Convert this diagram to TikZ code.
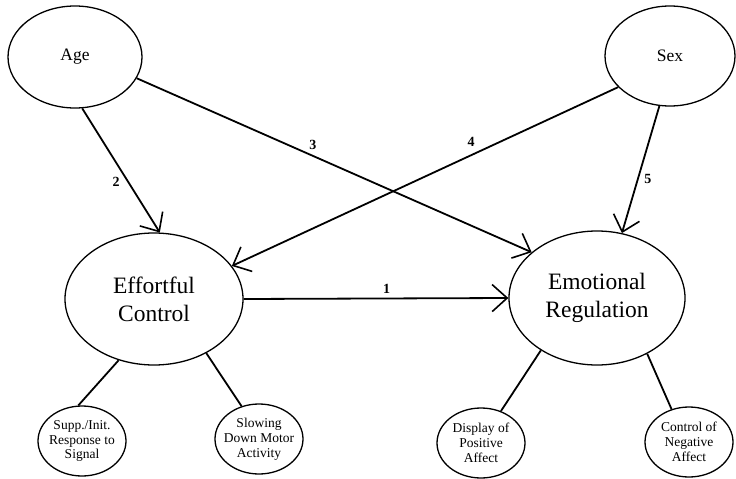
\documentclass[tikz,border=0pt]{standalone}
\usepackage{fontspec}
\setmainfont{Liberation Serif}
\usetikzlibrary{shapes.geometric,arrows.meta}
\begin{document}
\begin{tikzpicture}[x=1pt,y=-1pt,
  bigell/.style={draw,ellipse,line width=1.3pt,inner sep=0pt,align=center,
    font=\fontsize{23.5}{28}\selectfont},
  topell/.style={draw,ellipse,line width=1.3pt,inner sep=0pt,
    font=\fontsize{17.5}{20}\selectfont},
  smallell/.style={draw,ellipse,line width=1.3pt,inner sep=-5pt,align=center,
    minimum width=88pt,minimum height=70pt,font=\fontsize{13.5}{14.8}\selectfont},
  conn/.style={line width=1.8pt},
  arr/.style={line width=1.8pt,-{Straight Barb[length=15pt,width=27pt,line width=1.6pt]}},
  lab/.style={font=\bfseries\fontsize{14}{16}\selectfont,inner sep=0pt}
]
\useasboundingbox (0,0) rectangle (736,479);
\node[topell,minimum width=134pt,minimum height=102pt] (age) at (75,57) {Age};
\node[topell,minimum width=130pt,minimum height=100pt] (sex) at (670,56) {Sex};
\node[bigell,minimum width=178pt,minimum height=132pt] (ec) at (154,299) {Effortful\\Control};
\node[bigell,minimum width=176pt,minimum height=134pt] (er) at (597,298) {Emotional\\Regulation};
\node[smallell] (supp) at (82,441) {Supp./Init.\\Response to\\Signal};
\node[smallell] (slow) at (259,439) {Slowing\\Down Motor\\Activity};
\node[smallell] (disp) at (481,443) {Display of\\Positive\\Affect};
\node[smallell] (ctrl) at (689,442) {Control of\\Negative\\Affect};

\draw[arr] (ec.east) -- node[lab,pos=0.54,yshift=10pt] {1} (er.west);
\draw[arr] (age.-82) -- node[lab,pos=0.59,xshift=-12pt] {2} (ec.85);
\draw[arr] (age.-19) -- node[lab,pos=0.446,yshift=11pt] {3} (er.145);
\draw[arr] (sex.-149) -- node[lab,pos=0.381,yshift=13pt] {4} (ec.23);
\draw[arr] (sex.-102) -- node[lab,pos=0.577,xshift=10pt] {5} (er.69);

\draw[conn] (ec.-120) -- (supp.96);
\draw[conn] (ec.-46) -- (slow.118);
\draw[conn] (er.-137) -- (disp.58);
\draw[conn] (er.-48) -- (ctrl.118);
\end{tikzpicture}
\end{document}
